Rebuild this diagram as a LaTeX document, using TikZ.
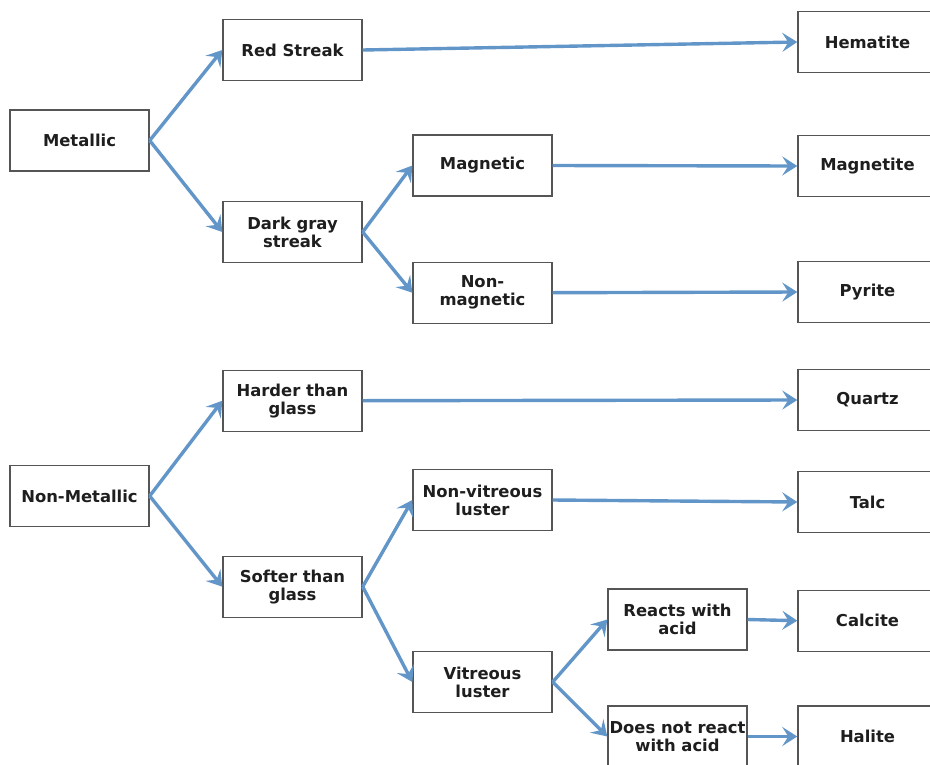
\documentclass[tikz,border=0pt]{standalone}
\usepackage{fontspec}
\setmainfont{DejaVu Sans}
\usetikzlibrary{arrows.meta}

\definecolor{flowblue}{RGB}{98,150,200}
\definecolor{boxgray}{RGB}{85,85,85}
\definecolor{textgray}{RGB}{30,30,30}

\begin{document}
\begin{tikzpicture}[x=1pt,y=-1pt]

\tikzset{box/.style={draw=boxgray,line width=1.4pt,fill=white,text=textgray,
  minimum width=139pt,minimum height=61pt,inner sep=1pt,
  align=center,font=\fontsize{16.4}{18}\selectfont\bfseries}}

\tikzset{flow/.style={draw=flowblue,line width=3.4pt,
  -{Stealth[length=15pt,width=19pt,inset=6pt]}}}

\clip (0,0) rectangle (930,764);

%metallic branch
\node[box] (metallic) at (79.5,140.5) {Metallic};
\node[box] (redstreak) at (292.5,50) {Red Streak};
\node[box] (darkgray) at (292.5,232) {Dark gray\\streak};
\node[box] (magnetic) at (482.5,165.5) {Magnetic};
\node[box] (nonmagnetic) at (482.5,292.7) {Non-\\magnetic};

%metallic minerals
\node[box] (hematite) at (867.5,42) {Hematite};
\node[box] (magnetite) at (867.5,166) {Magnetite};
\node[box] (pyrite) at (867.5,292) {Pyrite};

%non-metallic branch
\node[box] (nonmetallic) at (79.5,496) {Non-Metallic};
\node[box] (harder) at (292.5,400.7) {Harder than\\glass};
\node[box] (softer) at (292.5,586.7) {Softer than\\glass};
\node[box] (nonvitreous) at (482.5,500) {Non-vitreous\\luster};
\node[box] (vitreous) at (482.5,682) {Vitreous\\luster};
\node[box] (reacts) at (677.5,619.5) {Reacts with\\acid};
\node[box] (notreact) at (677.5,736.5) {Does not react\\with acid};

%non-metallic minerals
\node[box] (quartz) at (867.5,400) {Quartz};
\node[box] (talc) at (867.5,502) {Talc};
\node[box] (calcite) at (867.5,620.7) {Calcite};
\node[box] (halite) at (867.5,736.5) {Halite};

%arrows metallic
\draw[flow] (metallic.east)--(redstreak.west);
\draw[flow] (metallic.east)--(darkgray.west);
\draw[flow] (darkgray.east)--(magnetic.west);
\draw[flow] (darkgray.east)--(nonmagnetic.west);
\draw[flow] (redstreak.east)--(hematite.west);
\draw[flow] (magnetic.east)--(magnetite.west);
\draw[flow] (nonmagnetic.east)--(pyrite.west);

%arrows non-metallic
\draw[flow] (nonmetallic.east)--(harder.west);
\draw[flow] (nonmetallic.east)--(softer.west);
\draw[flow] (softer.east)--(nonvitreous.west);
\draw[flow] (softer.east)--(vitreous.west);
\draw[flow] (vitreous.east)--(reacts.west);
\draw[flow] (vitreous.east)--(notreact.west);
\draw[flow] (harder.east)--(quartz.west);
\draw[flow] (nonvitreous.east)--(talc.west);
\draw[flow] (reacts.east)--(calcite.west);
\draw[flow] (notreact.east)--(halite.west);

\end{tikzpicture}
\end{document}
